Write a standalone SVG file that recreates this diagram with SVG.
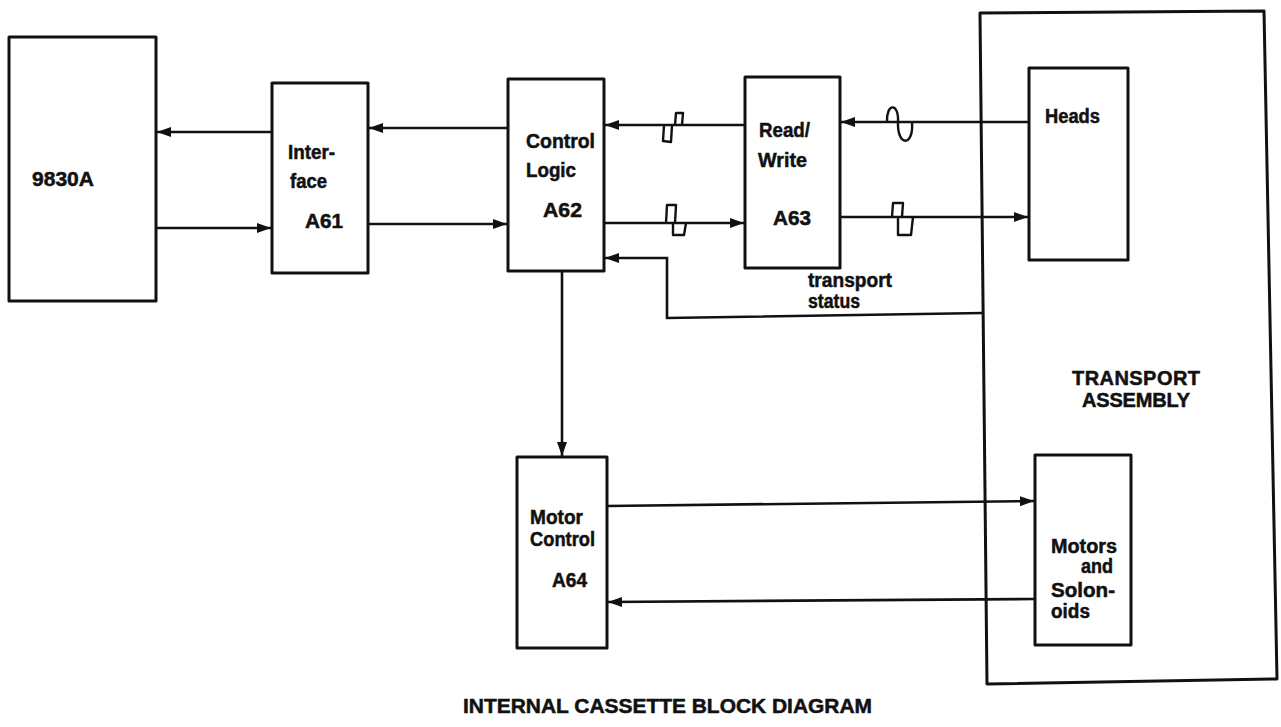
<svg xmlns="http://www.w3.org/2000/svg" width="1281" height="727" viewBox="0 0 1281 727">
<style>
.box{fill:#fff;stroke:#111;stroke-width:3;stroke-linejoin:round}
.ln{fill:none;stroke:#111;stroke-width:2.6}
.sq{fill:none;stroke:#111;stroke-width:2.4;stroke-linejoin:round}
.t{font-family:"Liberation Sans",Arial,sans-serif;font-weight:bold;font-size:20px;fill:#111;stroke:#111;stroke-width:0.5}
</style>
<defs>
<marker id="ah" markerUnits="userSpaceOnUse" markerWidth="16" markerHeight="12" refX="14" refY="6" orient="auto">
<path d="M0,1 L14,6 L0,11 Z" fill="#111"/>
</marker>
</defs>
<rect width="1281" height="727" fill="#fff"/>

<g id="transport-assembly">
<polygon class="box" points="980,13 1264,11 1277,679 987,684"/>
<text class="t" x="1072" y="385" font-size="19" textLength="128" lengthAdjust="spacing">TRANSPORT</text>
<text class="t" x="1082" y="407" font-size="19" textLength="108" lengthAdjust="spacing">ASSEMBLY</text>
</g>

<g id="n9830a">
<rect class="box" x="9" y="37" width="147" height="264"/>
<text class="t" x="32" y="186" textLength="62" lengthAdjust="spacingAndGlyphs">9830A</text>
</g>

<g id="interface">
<rect class="box" x="272" y="83" width="96" height="190"/>
<text class="t" x="288" y="159" textLength="47" lengthAdjust="spacingAndGlyphs">Inter-</text>
<text class="t" x="290" y="188" textLength="37" lengthAdjust="spacingAndGlyphs">face</text>
<text class="t" x="305" y="228" textLength="38" lengthAdjust="spacingAndGlyphs">A61</text>
</g>

<g id="control-logic">
<rect class="box" x="508" y="79" width="96" height="192"/>
<text class="t" x="526" y="148" textLength="69" lengthAdjust="spacingAndGlyphs">Control</text>
<text class="t" x="526" y="177" textLength="50" lengthAdjust="spacingAndGlyphs">Logic</text>
<text class="t" x="543" y="217" textLength="39" lengthAdjust="spacingAndGlyphs">A62</text>
</g>

<g id="read-write">
<rect class="box" x="745" y="77" width="95" height="191"/>
<text class="t" x="759" y="137" textLength="51" lengthAdjust="spacingAndGlyphs">Read/</text>
<text class="t" x="758" y="167" textLength="49" lengthAdjust="spacingAndGlyphs">Write</text>
<text class="t" x="773" y="225" textLength="38" lengthAdjust="spacingAndGlyphs">A63</text>
</g>

<g id="heads">
<rect class="box" x="1029" y="68" width="99" height="192"/>
<text class="t" x="1045" y="123" textLength="55" lengthAdjust="spacingAndGlyphs">Heads</text>
</g>

<g id="motor-control">
<rect class="box" x="517" y="457" width="90" height="191"/>
<text class="t" x="530" y="524" textLength="53" lengthAdjust="spacingAndGlyphs">Motor</text>
<text class="t" x="530" y="546" textLength="65" lengthAdjust="spacingAndGlyphs">Control</text>
<text class="t" x="552" y="587" textLength="35" lengthAdjust="spacingAndGlyphs">A64</text>
</g>

<g id="motors-solonoids">
<rect class="box" x="1035" y="455" width="96" height="190"/>
<text class="t" x="1051" y="553" textLength="66" lengthAdjust="spacingAndGlyphs">Motors</text>
<text class="t" x="1081" y="573" textLength="32" lengthAdjust="spacingAndGlyphs">and</text>
<text class="t" x="1051" y="597" textLength="64" lengthAdjust="spacingAndGlyphs">Solon-</text>
<text class="t" x="1051" y="618" textLength="39" lengthAdjust="spacingAndGlyphs">oids</text>
</g>

<g id="connectors">
<line class="ln" x1="272" y1="132" x2="157" y2="132" marker-end="url(#ah)"/>
<line class="ln" x1="157" y1="228" x2="271" y2="228" marker-end="url(#ah)"/>
<line class="ln" x1="508" y1="128" x2="369" y2="128" marker-end="url(#ah)"/>
<line class="ln" x1="369" y1="224" x2="507" y2="224" marker-end="url(#ah)"/>
<line class="ln" x1="745" y1="125" x2="605" y2="125" marker-end="url(#ah)"/>
<line class="ln" x1="605" y1="223" x2="744" y2="223" marker-end="url(#ah)"/>
<line class="ln" x1="1029" y1="122" x2="841" y2="122" marker-end="url(#ah)"/>
<line class="ln" x1="841" y1="217" x2="1028" y2="217" marker-end="url(#ah)"/>
<polyline class="ln" points="983,313 667,318 667,258 605,258" marker-end="url(#ah)"/>
<line class="ln" x1="562" y1="271" x2="562" y2="456" marker-end="url(#ah)"/>
<line class="ln" x1="607" y1="506" x2="1034" y2="501" marker-end="url(#ah)"/>
<line class="ln" x1="1035" y1="599" x2="608" y2="602" marker-end="url(#ah)"/>
<path class="sq" d="M664,125 L663,141 L671,142 L672,125 M675,125 L676,113 L683,113 L682,125"/>
<path class="sq" d="M666,223 L667,205 L676,205 L675,223 M673,223 L673,235 L684,235 L686,223"/>
<path class="sq" d="M887,122 C886,103 899,102 898,122 C897,147 914,147 912,122"/>
<path class="sq" d="M892,217 L893,203 L903,203 L902,217 M898,217 L898,235 L911,235 L913,217"/>
<text class="t" x="808" y="287" font-size="14" textLength="84" lengthAdjust="spacingAndGlyphs">transport</text>
<text class="t" x="808" y="308" font-size="13" textLength="52" lengthAdjust="spacingAndGlyphs">status</text>
</g>

<text class="t" x="463" y="713" font-size="25" textLength="409" lengthAdjust="spacingAndGlyphs">INTERNAL CASSETTE BLOCK DIAGRAM</text>
</svg>
